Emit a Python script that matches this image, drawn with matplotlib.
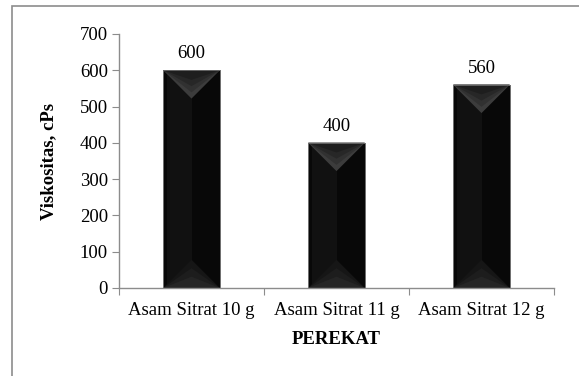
import numpy as np
import matplotlib
matplotlib.use("Agg")
import matplotlib.pyplot as plt
import matplotlib.patches as patches

# data
categories = ["Asam Sitrat 10 g", "Asam Sitrat 11 g", "Asam Sitrat 12 g"]
viskositas = [600, 400, 560]
yticks = [0, 100, 200, 300, 400, 500, 600, 700]

plt.rcParams['font.family'] = ['Liberation Serif', 'DejaVu Serif']

fig = plt.figure(figsize=(5.79, 3.76), dpi=100)
ax = fig.add_axes([119 / 579, 1 - 288 / 376, 435 / 579, 254 / 376])

# outer frame (only top/left visible in reference)
fig.patches.append(patches.Rectangle((12 / 579, -0.2), 1.2, (1 - 6 / 376) + 0.2,
                                     transform=fig.transFigure, fill=False,
                                     edgecolor="#8c8c8c", linewidth=1.2))

x = np.arange(len(categories))
bw = 0.39
ax.set_xlim(-0.5, len(categories) - 0.5)
ax.set_ylim(0, 700)

bars = ax.bar(x, viskositas, width=bw, color="#080808", edgecolor="#7a7a7a",
              linewidth=0.6, zorder=2)

# bevel depth: half the bar width, converted to data units of y
p0 = ax.transData.transform((0, 0))
p1 = ax.transData.transform((bw / 2, 0))
px_half = p1[0] - p0[0]
ppy = ax.transData.transform((0, 100))[1] - p0[1]
depth = px_half / ppy * 100

for b in bars:
    x0 = b.get_x()
    x1 = x0 + b.get_width()
    xc = x0 + b.get_width() / 2
    h = b.get_height()
    # faint lighter strip on the left half
    ax.add_patch(patches.Rectangle((x0 + bw * 0.06, 0), bw * 0.44, h,
                                   color="#111111", zorder=2.1, linewidth=0))
    # top bevel (gradient by stacked triangles)
    for k, c in enumerate(["#3c3c3c", "#313131", "#272727", "#1e1e1e"]):
        f = 1 - k * 0.22
        ax.add_patch(patches.Polygon([[x0, h], [x1, h], [xc, h - depth * f]],
                                     closed=True, color=c, zorder=2.2 + k * 0.01,
                                     linewidth=0))
    # bottom bevel
    for k, c in enumerate(["#161616", "#1d1d1d", "#252525"]):
        f = 1 - k * 0.3
        ax.add_patch(patches.Polygon([[x0, 0], [x1, 0], [xc, depth * f]],
                                     closed=True, color=c, zorder=2.2 + k * 0.01,
                                     linewidth=0))
    # edge outline
    ax.add_patch(patches.Rectangle((x0, 0), b.get_width(), h, fill=False,
                                   edgecolor="#6e6e6e", linewidth=0.6, zorder=2.5))
    ax.text(xc, h + 22, f"{h:.0f}", ha="center", va="bottom", fontsize=13.5)

ax.set_yticks(yticks)
ax.set_xticks(np.arange(len(categories) + 1) - 0.5, minor=False)
ax.set_xticklabels([])
ax.set_xticks(x, minor=True)
ax.set_xticklabels(categories, minor=True)
ax.tick_params(axis="x", which="minor", length=0, labelsize=13.5, pad=10)
ax.tick_params(axis="x", which="major", length=5, color="#8c8c8c", direction="out")
ax.tick_params(axis="y", length=5, color="#8c8c8c", direction="out",
               labelsize=13.5, pad=3)

for s in ["top", "right"]:
    ax.spines[s].set_visible(False)
for s in ["left", "bottom"]:
    ax.spines[s].set_color("#8c8c8c")
    ax.spines[s].set_linewidth(1.0)

ax.set_ylabel("Viskositas, cPs", fontsize=13.5, fontweight="bold", labelpad=16)
ax.set_xlabel("PEREKAT", fontsize=13.5, fontweight="bold", labelpad=9)

fig.savefig("out.png", dpi=100)
